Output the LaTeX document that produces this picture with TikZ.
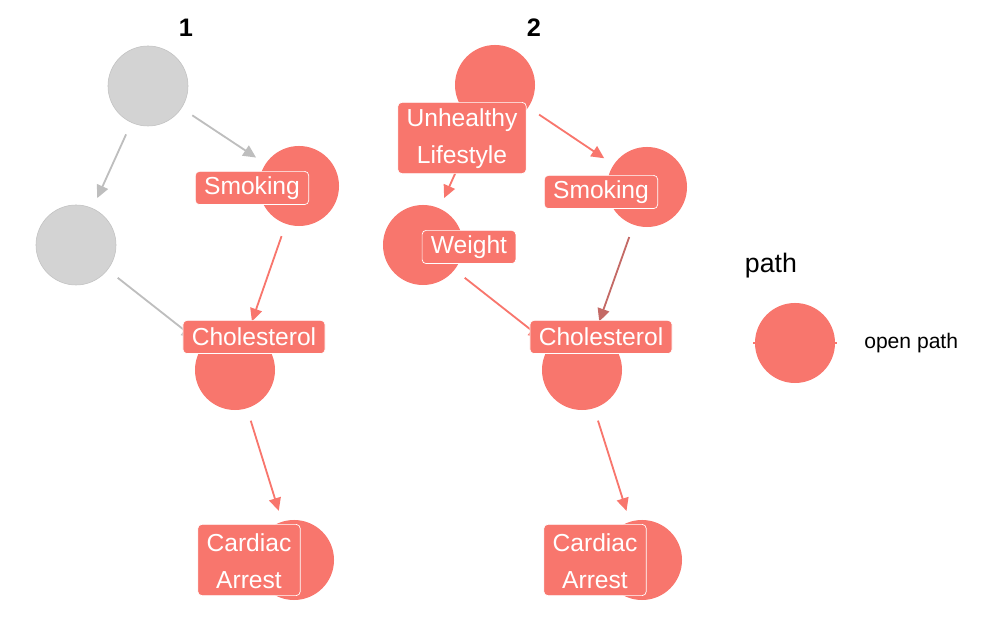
\documentclass[tikz,border=0pt]{standalone}
\usepackage{fontspec}
\setmainfont{Liberation Sans}
\usepackage{tikz}
\usetikzlibrary{arrows.meta, positioning}
\definecolor{salmon}{HTML}{F8766D}
\definecolor{lightgrey}{HTML}{D3D3D3}
\definecolor{edgegrey}{HTML}{BEBEBE}
\definecolor{darksalmon}{HTML}{C46A66}
\tikzset{
  dot/.style={
    circle, minimum size=2cm, inner sep=0pt, fill=salmon
  },
  greydot/.style={
    circle, minimum size=2cm, inner sep=0pt, fill=lightgrey,
    draw=lightgrey!92!black, line width=0.4pt
  },
  tag/.style={
    rectangle, rounded corners=0.1cm, fill=salmon, draw=white, line width=0.5pt,
    text=white, font=\fontsize{17.5}{26.5}\selectfont, align=center,
    inner xsep=0.22cm, inner ysep=0.1cm, minimum height=0.83cm
  },
  arrow/.style={
    -{Triangle[length=0.32cm, width=0.3cm]}, line width=1.3pt, color=salmon,
    shorten >=0.28cm, shorten <=0.32cm
  }
}

\begin{document}
\begin{tikzpicture}[
  x=0.025cm, y=-0.025cm,
  title/.style={font=\bfseries\fontsize{18}{20}\selectfont},
  tagtwo/.style={tag, minimum height=1.78cm}
]
\useasboundingbox (0,0) rectangle (988,628);

% Titel
\node[title] (t1) at (186,28) {1};
\node[title] (t2) at (534,28) {2};

% Graph 1
\node[greydot] (a1) at (148,86) {};
\node[greydot] (b1) at (76,245) {};
\node[dot] (s1) at (299,186) {};
\node[dot] (c1) at (235,370) {};
\node[dot] (r1) at (294,560) {};

\draw[arrow, edgegrey] (a1) -- (s1);
\draw[arrow, edgegrey] (a1) -- (b1);
\draw[arrow, edgegrey] (b1) -- (c1);
\draw[arrow] (s1) -- (c1);
\draw[arrow] (c1) -- (r1);

\node[tag] (s1l) at (252,188) {Smoking};
\node[tag] (c1l) at (254,337) {Cholesterol};
\node[tagtwo] (r1l) at (249,560) {\rule{0pt}{14pt}Cardiac\\Arrest};

% Graph 2
\node[dot] (u2) at (495,85) {};
\node[dot] (s2) at (647,187) {};
\node[dot] (w2) at (423,245) {};
\node[dot] (c2) at (582,370) {};
\node[dot] (r2) at (642,560) {};

\draw[arrow] (u2) -- (s2);
\draw[arrow] (u2) -- (w2);
\draw[arrow] (w2) -- (c2);
\draw[arrow, darksalmon] (s2) -- (c2);
\draw[arrow] (c2) -- (r2);

\node[tagtwo] (u2l) at (462,138) {\rule{0pt}{14pt}Unhealthy\\Lifestyle};
\node[tag] (s2l) at (601,192) {Smoking};
\node[tag] (w2l) at (469,247) {Weight};
\node[tag] (c2l) at (601,337) {Cholesterol};
\node[tagtwo] (r2l) at (595,560) {\rule{0pt}{14pt}Cardiac\\Arrest};

% Legende
\node[font=\fontsize{19}{22}\selectfont, anchor=west] (lt) at (740,266) {path};
\node[dot] (lk) at (795,343) {};
\draw[salmon, line width=0.8pt] ([xshift=-1pt]lk.west) -- ([xshift=1pt]lk.east);
\node[font=\fontsize{15}{18}\selectfont, right=0.6cm of lk] (lo) {open path};

\end{tikzpicture}
\end{document}
